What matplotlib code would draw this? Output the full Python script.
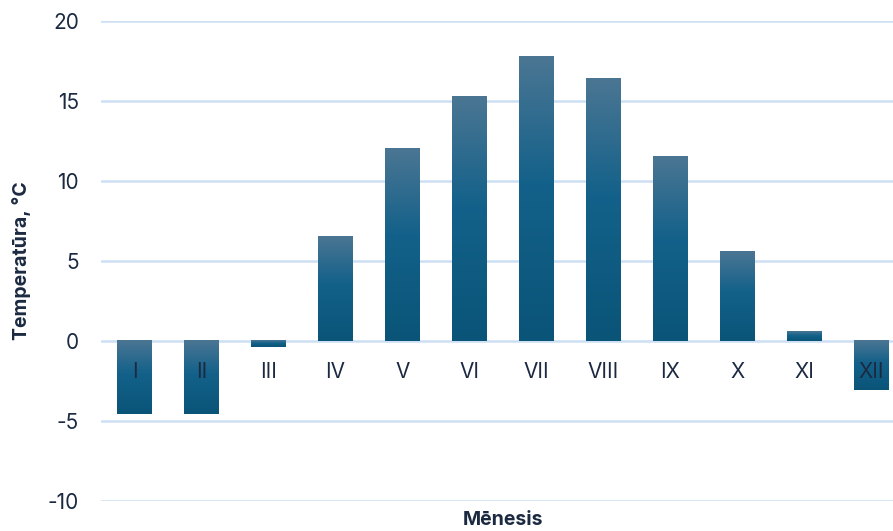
import matplotlib
matplotlib.use("Agg")
import matplotlib.pyplot as plt
import numpy as np
from matplotlib.colors import LinearSegmentedColormap

# mēneša vidējā temperatūra
months = ['I', 'II', 'III', 'IV', 'V', 'VI', 'VII', 'VIII', 'IX', 'X', 'XI', 'XII']
temps = [-4.6, -4.6, -0.4, 6.5, 12.0, 15.3, 17.8, 16.4, 11.5, 5.6, 0.6, -3.1]
yticks = [-10, -5, 0, 5, 10, 15, 20]

text_color = '#1b2a41'
grid_color = '#cddff2'

plt.rcParams['font.family'] = ['Inter', 'DejaVu Sans']

fig = plt.figure(figsize=(8.93, 5.31), dpi=100)
ax = fig.add_axes([101 / 893, 1 - 500.7 / 531, 804 / 893, 480 / 531])

# vertikālais gradients stabiņiem (apakša -> augša)
cmap = LinearSegmentedColormap.from_list(
    'bar_grad', [(0.0, '#0a5478'), (0.55, '#13618a'), (1.0, '#4b7693')])
grad = np.linspace(0, 1, 256).reshape(-1, 1)

width = 0.52
for i, v in enumerate(temps):
    lo, hi = min(0, v), max(0, v)
    ax.imshow(grad, cmap=cmap, origin='lower', aspect='auto',
              extent=[i - width / 2, i + width / 2, lo, hi], zorder=1,
              interpolation='bilinear')

for y in yticks:
    ax.axhline(y, color=grid_color, lw=1.8, zorder=0.5)

ax.set_xlim(-0.5, len(months) - 0.5)
ax.set_ylim(-10, 20)
ax.set_yticks(yticks)
ax.set_yticklabels([str(t) for t in yticks])
ax.set_xticks(range(len(months)))
ax.set_xticklabels(months)

for s in ax.spines.values():
    s.set_visible(False)
ax.spines['bottom'].set_position(('data', 0))

ax.tick_params(axis='y', length=0, pad=16, labelsize=15, labelcolor=text_color)
ax.tick_params(axis='x', length=0, pad=15.5, labelsize=15, labelcolor=text_color)

fig.text(503 / 893, 1 - 520 / 531, 'Mēnesis', ha='center', va='center',
         fontsize=14, fontweight='bold', color=text_color)
fig.text(22 / 893, 1 - 260.7 / 531, 'Temperatūra, °C', ha='center', va='center',
         rotation=90, fontsize=14, fontweight='bold', color=text_color)

fig.savefig('out.png', dpi=100)
